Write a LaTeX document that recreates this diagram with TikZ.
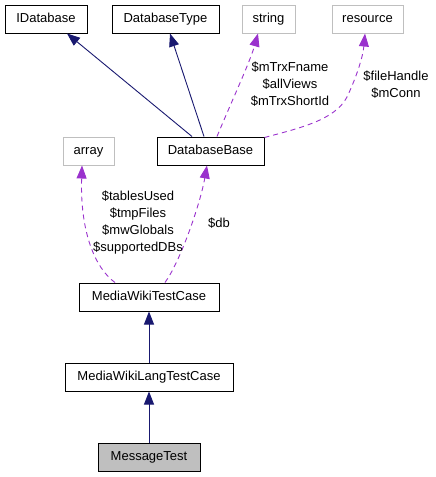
\documentclass[tikz,border=0pt]{standalone}
\usepackage{fontspec}
\setmainfont{Liberation Sans}
\usetikzlibrary{arrows.meta}
\definecolor{edgeblue}{HTML}{191970}
\definecolor{edgepurple}{HTML}{9A32CD}
\definecolor{boxgray}{HTML}{BFBFBF}
\begin{document}
\begin{tikzpicture}[x=1pt,y=-1pt,
  cls/.style={draw=black,line width=1pt,minimum height=28pt,inner sep=0pt,text height=8pt,text depth=2pt,font=\fontsize{13pt}{17pt}\selectfont},
  ext/.style={cls,draw=boxgray},
  inh/.style={draw=edgeblue,line width=0.9pt,-{Triangle[length=13pt,width=10pt,fill=edgeblue]}},
  use/.style={draw=edgepurple,line width=0.9pt,dash pattern=on 5pt off 4pt,-{Triangle[length=13pt,width=10pt,fill=edgepurple]}},
  lbl/.style={align=center,inner sep=0pt,font=\fontsize{13pt}{17pt}\selectfont}]
\useasboundingbox (0,0) rectangle (436,477);
\node[cls,minimum width=82pt] (idb) at (46,19) {IDatabase};
\node[cls,minimum width=107pt] (dbt) at (165.5,19) {DatabaseType};
\node[ext,minimum width=53pt] (str) at (268.5,19) {string};
\node[ext,minimum width=71pt] (res) at (367.5,19) {resource};
\node[ext,minimum width=51pt] (arr) at (88.5,151) {array};
\node[cls,minimum width=107pt] (dbb) at (210.5,151) {DatabaseBase};
\node[cls,minimum width=140pt] (mwt) at (149,297) {MediaWikiTestCase};
\node[cls,minimum width=168pt] (mwl) at (149,377) {MediaWikiLangTestCase};
\node[cls,minimum width=102pt,fill=boxgray] (msg) at (149,457) {MessageTest};

\draw[inh] ([xshift=-18.5pt]dbb.north) -- ([xshift=21pt]idb.south);
\draw[inh] ([xshift=-6.5pt]dbb.north) -- ([xshift=4.5pt]dbt.south);
\draw[inh] (mwl.north) -- (mwt.south);
\draw[inh] (msg.north) -- (mwl.south);

\draw[use] ([xshift=6.5pt]dbb.north) .. controls (230,105) and (250,62) .. ([xshift=-10.5pt]str.south);
\draw[use] ([yshift=-1pt]dbb.north east) .. controls (300,128) and (335,120) .. (347,97) .. controls (357,76) and (363,56) .. ([xshift=-2.5pt]res.south);
\draw[use] ([xshift=-34pt]mwt.north) .. controls (95,268) and (80,232) .. ([xshift=-6.5pt]arr.south);
\draw[use] ([xshift=16pt]mwt.north) .. controls (180,262) and (200,205) .. ([xshift=-3.5pt]dbb.south);

\node[lbl] (l1) at (290,84) {\$mTrxFname\\\$allViews\\\$mTrxShortId};
\node[lbl] (l2) at (396,84.5) {\$fileHandle\\\$mConn};
\node[lbl] (l3) at (138,222.5) {\$tablesUsed\\\$tmpFiles\\\$mwGlobals\\\$supportedDBs};
\node[lbl] (l4) at (219,223) {\$db};
\end{tikzpicture}
\end{document}
